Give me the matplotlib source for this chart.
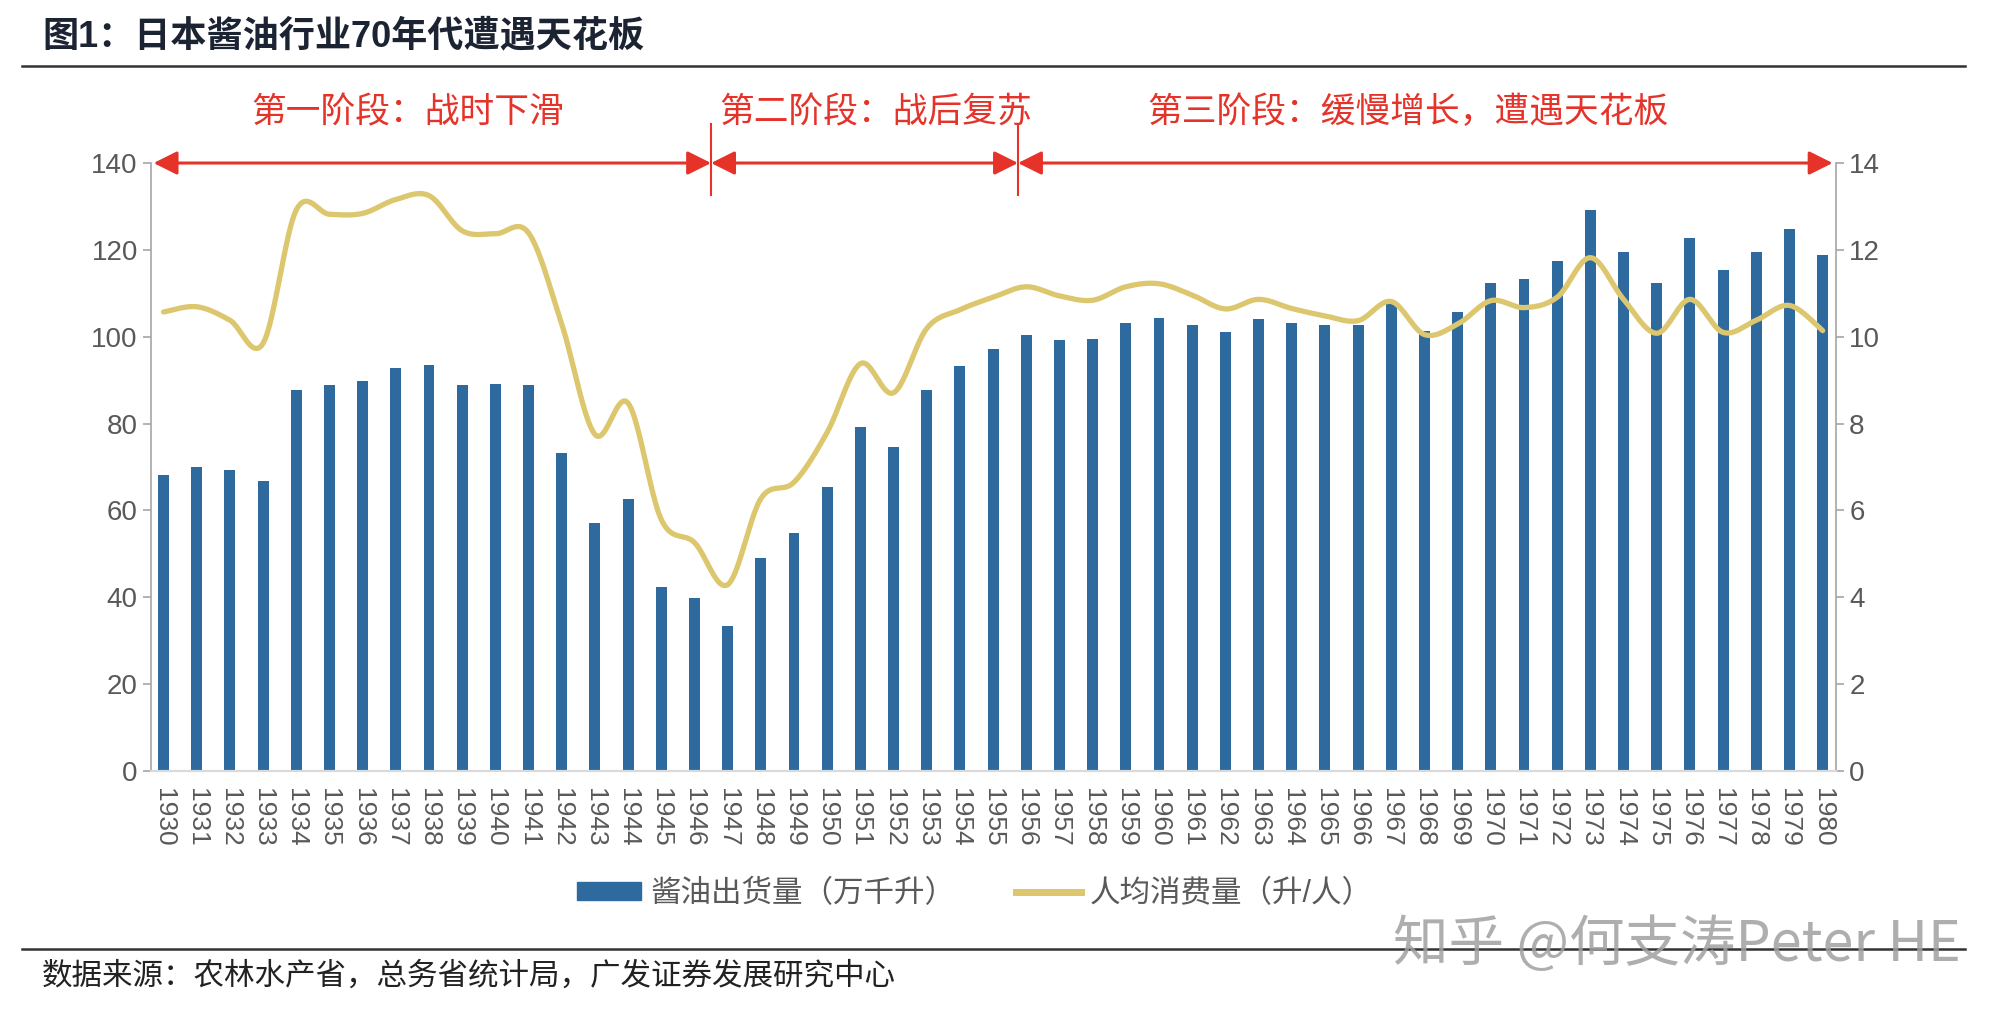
import numpy as np
import matplotlib
matplotlib.use("Agg")
from matplotlib import pyplot as plt
from matplotlib.lines import Line2D
from matplotlib.patches import Patch

plt.rcParams['font.family'] = ['Liberation Sans', 'Noto Sans CJK SC', 'DejaVu Sans']

# 年份
years = [str(y) for y in range(1930, 1981)]

# 酱油出货量（万千升）
shipments = [68.1, 69.9, 69.3, 66.8, 87.8, 88.8, 89.9, 92.9, 93.6, 88.8,
             89.0, 88.8, 73.3, 57.0, 62.7, 42.4, 39.8, 33.4, 49.0, 54.8,
             65.4, 79.2, 74.6, 87.8, 93.2, 97.2, 100.4, 99.3, 99.5, 103.2,
             104.3, 102.7, 101.1, 104.1, 103.1, 102.7, 102.8, 107.6, 101.4, 105.7,
             112.4, 113.2, 117.4, 129.2, 119.6, 112.4, 122.8, 115.3, 119.5, 124.8,
             118.9]

# 人均消费量（升/人）
per_capita = [10.57, 10.69, 10.38, 9.85, 12.92, 12.82, 12.84, 13.16, 13.25, 12.44,
              12.37, 12.39, 10.29, 7.75, 8.47, 5.79, 5.26, 4.29, 6.27, 6.65,
              7.80, 9.38, 8.71, 10.19, 10.62, 10.91, 11.15, 10.94, 10.84, 11.15,
              11.22, 10.96, 10.64, 10.86, 10.65, 10.48, 10.37, 10.81, 10.05, 10.29,
              10.83, 10.67, 10.91, 11.82, 10.86, 10.08, 10.86, 10.10, 10.38, 10.72,
              10.14]

# 阶段划分
phase_labels = ['第一阶段：战时下滑', '第二阶段：战后复苏', '第三阶段：缓慢增长，遭遇天花板']
phase_bounds = [-0.3, 16.5, 25.75, 50.3]

BLUE = '#2F6A9F'
GOLD = '#DCC66E'
RED = '#E5332A'
GRAY = '#595959'


def smooth(xs, ys, n=24):
    # Catmull-Rom 平滑（类似Excel平滑线）
    pts = np.column_stack([xs, ys]).astype(float)
    p = np.vstack([pts[0], pts, pts[-1]])
    out = []
    t = np.linspace(0, 1, n, endpoint=False)[:, None]
    for i in range(1, len(p) - 2):
        p0, p1, p2, p3 = p[i - 1], p[i], p[i + 1], p[i + 2]
        c = 0.5 * ((2 * p1) + (-p0 + p2) * t + (2 * p0 - 5 * p1 + 4 * p2 - p3) * t ** 2
                   + (-p0 + 3 * p1 - 3 * p2 + p3) * t ** 3)
        out.append(c)
    out.append(pts[-1:])
    return np.vstack(out)


fig = plt.figure(figsize=(20.1, 10.24), dpi=100)
ax = fig.add_axes([0.0751, 0.2471, 0.9134 - 0.0751, 0.8408 - 0.2471])
ax2 = ax.twinx()

x = np.arange(len(years))
ax.bar(x, shipments, width=0.33, color=BLUE, zorder=2)

curve = smooth(x, per_capita)
ax2.plot(curve[:, 0], curve[:, 1], color=GOLD, lw=3.8, solid_capstyle='round', zorder=3)

ax.set_xlim(-0.38, 50.4)
ax.set_ylim(0, 140)
ax2.set_ylim(0, 14)
ax.set_yticks(range(0, 141, 20))
ax2.set_yticks(range(0, 15, 2))
ax.set_xticks(x)
ax.set_xticklabels(years, rotation=270)

for a in (ax, ax2):
    a.spines['top'].set_visible(False)
    for s in ('left', 'right'):
        a.spines[s].set_color('#A6A6A6')
        a.spines[s].set_linewidth(1.2)
    a.spines['bottom'].set_color('#D9D9D9')
    a.spines['bottom'].set_linewidth(1.5)
    a.tick_params(axis='y', colors='#A6A6A6', labelcolor=GRAY, labelsize=20, length=6, width=1.2)
ax.spines['right'].set_visible(False)
ax2.spines['left'].set_visible(False)
ax.tick_params(axis='x', length=0, labelsize=19, labelcolor=GRAY, pad=12)

# 阶段箭头与文字
for i, lab in enumerate(phase_labels):
    x0, x1 = phase_bounds[i], phase_bounds[i + 1]
    ax.annotate('', xy=(x1, 140), xytext=(x0, 140),
                arrowprops=dict(arrowstyle='<|-|>,head_length=0.4,head_width=0.2',
                                color=RED, lw=2.2, mutation_scale=36,
                                shrinkA=0, shrinkB=0),
                annotation_clip=False, zorder=5)
for xb in phase_bounds[1:3]:
    ax.plot([xb, xb], [132.6, 148.9], color=RED, lw=1.5, clip_on=False, zorder=5)
for lab, xc in zip(phase_labels, [7.37, 21.47, 37.5]):
    ax.text(xc, 151.5, lab, color=RED, fontsize=25, ha='center', va='center',
            family=['Noto Sans CJK SC', 'DejaVu Sans'])

# 图例
handles = [Patch(color=BLUE), Line2D([], [], color=GOLD, lw=5)]
leg = fig.legend(handles, ['酱油出货量（万千升）', '人均消费量（升/人）'],
                 loc='center', bbox_to_anchor=(0.485, 0.127), ncol=2, frameon=False,
                 fontsize=22, handlelength=2.1, handleheight=0.55,
                 handletextpad=0.3, columnspacing=2.0, labelcolor=GRAY)

# 标题、分隔线、来源
fig.text(42 / 2010, 1 - 37 / 1024, '图1：日本酱油行业70年代遭遇天花板', fontsize=26,
         fontweight='bold', color='#1C2333', va='center', ha='left')
fig.add_artist(Line2D([22 / 2010, 1965 / 2010], [1 - 66 / 1024] * 2, color='#333333', lw=1.8))
fig.add_artist(Line2D([22 / 2010, 1965 / 2010], [1 - 949 / 1024] * 2, color='#333333', lw=1.8))
fig.text(42 / 2010, 1 - 977 / 1024, '数据来源：农林水产省，总务省统计局，广发证券发展研究中心',
         fontsize=22, color='#222222', va='center', ha='left')
fig.text(1961 / 2010, 1 - 945 / 1024, '知乎 @何支涛Peter HE', fontsize=40,
         color='#A0A0A0', alpha=0.85, va='center', ha='right',
         family=['Noto Sans CJK SC', 'DejaVu Sans'])

fig.savefig('out.png', dpi=100)
